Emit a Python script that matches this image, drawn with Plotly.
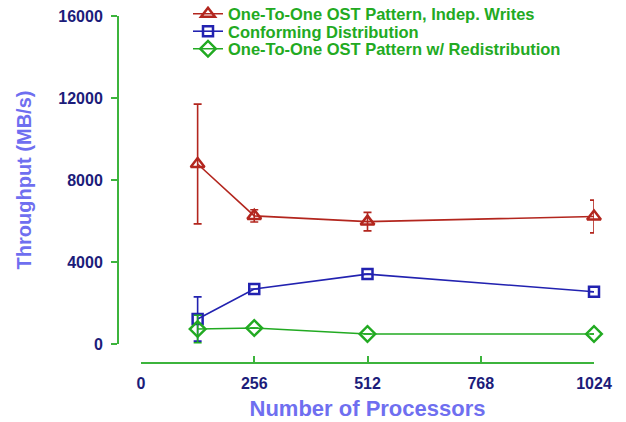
import plotly.graph_objects as go

procs = [128, 256, 512, 1024]

indep_vals = [8780, 6250, 5970, 6220]
indep_err = [2920, 300, 450, 800]

conf_vals = [1220, 2680, 3410, 2550]
conf_err = [1080, 0, 0, 0]

redis_vals = [730, 780, 490, 490]
redis_err = [670, 0, 0, 0]

x_ticks = [0, 256, 512, 768, 1024]
y_ticks = [0, 4000, 8000, 12000, 16000]

names = ["One-To-One OST Pattern, Indep. Writes",
         "Conforming Distribution",
         "One-To-One OST Pattern w/ Redistribution"]

RED = "#b3261e"
BLUE = "#2222b0"
GREEN = "#22aa22"
AXIS_GREEN = "#3cb43c"
NAVY = "#1c1c7a"
TITLE = "#6f6ff0"
FONT = "Liberation Sans, Arial, sans-serif"

fig = go.Figure()

series = [
    (indep_vals, indep_err, RED, "triangle-up-open", 12),
    (conf_vals, conf_err, BLUE, "square-open", 10),
    (redis_vals, redis_err, GREEN, "diamond-open", 12),
]
legend_ids = ["legend", "legend2", "legend3"]

for (vals, err, col, sym, sz), name, lg in zip(series, names, legend_ids):
    fig.add_trace(go.Scatter(
        x=procs, y=vals, name=name, mode="lines+markers",
        line=dict(color=col, width=1.6),
        marker=dict(symbol=sym, size=sz, color=col, line=dict(color=col, width=2.5)),
        error_y=dict(type="data", array=err, visible=True, color=col, thickness=1.6, width=4),
        cliponaxis=False, legend=lg,
    ))

L, R, T, B = 100, 32, 0, 40
W, H = 626, 422
pw = W - L - R
ph = H - T - B


def py(p):
    return (H - B - p) / ph


def px(p):
    return (p - L) / pw


fig.update_layout(
    width=W, height=H,
    margin=dict(l=L, r=R, t=T, b=B, autoexpand=False),
    paper_bgcolor="white", plot_bgcolor="white",
    font=dict(family=FONT),
    xaxis=dict(
        domain=[px(141), px(594)],
        range=[0, 1024], anchor="free", position=py(363), automargin=False,
        tickvals=x_ticks, ticktext=[str(v) for v in x_ticks],
        ticks="inside", ticklen=6, tickwidth=2, tickcolor=AXIS_GREEN,
        ticklabelstandoff=6,
        showline=True, linecolor=AXIS_GREEN, linewidth=2,
        showgrid=False, zeroline=False,
        tickfont=dict(color=NAVY, size=16, weight="bold"),
        title=dict(text="Number of Processors", font=dict(color=TITLE, size=22, weight="bold"), standoff=8),
    ),
    yaxis=dict(
        domain=[py(344), py(16)],
        range=[0, 16000], anchor="free", position=px(118), automargin=False,
        tickvals=y_ticks, ticktext=[str(v) for v in y_ticks],
        ticks="outside", ticklen=6, tickwidth=2, tickcolor=AXIS_GREEN,
        ticklabelstandoff=5,
        showline=True, linecolor=AXIS_GREEN, linewidth=2,
        showgrid=False, zeroline=False,
        tickfont=dict(color=NAVY, size=16, weight="bold"),
        title=dict(text="Throughput (MB/s)", font=dict(color=TITLE, size=20, weight="bold"), standoff=20),
    ),
    showlegend=True,
)

rows = [12.5, 30, 47.5]
for lg, r in zip(legend_ids, rows):
    fig.update_layout({lg: dict(
        x=px(188), xanchor="left", y=py(r - 16), yanchor="top",
        bgcolor="rgba(0,0,0,0)", borderwidth=0,
        font=dict(color=GREEN, size=16.5, weight="bold"),
        itemwidth=30,
    )})

fig.write_html("out.html", config={"displayModeBar": False},
               post_script="document.body.style.margin='0';")
